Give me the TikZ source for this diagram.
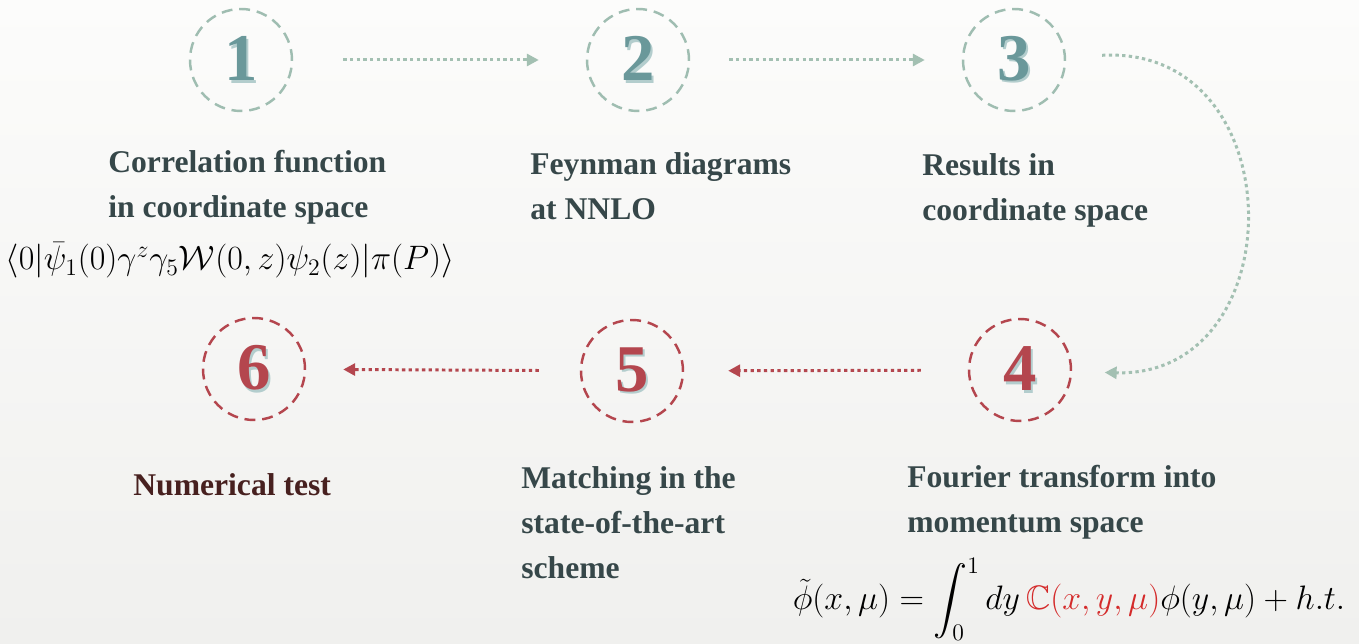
\documentclass[tikz,border=0pt]{standalone}
\usepackage{fix-cm}
\usepackage{amsmath,amssymb}
\usepackage{fontspec}
\setmainfont{Liberation Serif}
\usetikzlibrary{arrows.meta}

\definecolor{sage}{HTML}{9FBDB1}
\definecolor{sagearrow}{HTML}{A3C0B2}
\definecolor{brick}{HTML}{B4464E}
\definecolor{tealdigit}{HTML}{6A989A}
\definecolor{tealshade}{HTML}{B3CDCD}
\definecolor{inktext}{HTML}{364749}
\definecolor{inkred}{HTML}{47201F}
\definecolor{kernelred}{HTML}{D42A2A}
\definecolor{bgtop}{HTML}{FCFCFB}
\definecolor{bgbot}{HTML}{F0F0EE}

% digit with a small offset shadow
\newcommand{\stepdigit}[1]{\rlap{\hspace{1.4pt}\raisebox{-1.4pt}{\color{tealshade}#1}}#1}

\begin{document}
\begin{tikzpicture}[x=0.02cm, y=-0.02cm,
  stage/.style={circle, inner sep=0pt, minimum size=2.04cm, line width=1.4pt,
    dash pattern=on 6.2pt off 3.9pt, font=\fontsize{38}{38}\selectfont\bfseries},
  greenstage/.style={stage, draw=sage, text=tealdigit},
  redstage/.style={stage, draw=brick, text=brick},
  flow/.style={line width=1.7pt, dash pattern=on 1.9pt off 1.9pt,
    -{Triangle[length=6.8pt,width=6.8pt]}},
  stagetext/.style={anchor=north west, align=left, inner sep=0pt, text=inktext,
    font=\fontsize{18}{25.6}\selectfont\bfseries, execute at begin node={\rule{0pt}{18pt}}},
  formula/.style={anchor=base, inner sep=0pt, font=\fontsize{19.3}{22}\selectfont}]
  % background
  \fill[top color=bgtop, bottom color=bgbot] (0,0) rectangle (1359,644);
  \useasboundingbox (0,0) rectangle (1359,644);
  % stages, top row
  \node[greenstage] (c1) at (241,60) {\stepdigit{1}};
  \node[greenstage] (c2) at (638,60) {\stepdigit{2}};
  \node[greenstage] (c3) at (1014,60) {\stepdigit{3}};
  % stages, bottom row
  \node[redstage] (c4) at (1020,370) {\stepdigit{4}};
  \node[redstage] (c5) at (632,371) {\stepdigit{5}};
  \node[redstage] (c6) at (254,369) {\stepdigit{6}};
  % arrows
  \draw[flow, sagearrow, shorten <=1cm, shorten >=0.94cm] (c1) -- (c2);
  \draw[flow, sagearrow, shorten <=0.78cm, shorten >=0.74cm] (c2) -- (c3);
  \draw[flow, sagearrow, shorten <=0.72cm, shorten >=0.65cm]
    (c3) .. controls (1295,45) and (1295,378) .. (c4);
  \draw[flow, brick, shorten <=0.94cm, shorten >=0.88cm] (c4) -- (c5);
  \draw[flow, brick, shorten <=0.82cm, shorten >=0.74cm] (c5) -- (c6);
  % descriptions
  \node[stagetext] (t1) at (108,150) {Correlation function\\in coordinate space};
  \node[stagetext] (t2) at (530,152) {Feynman diagrams\\at NNLO};
  \node[stagetext] (t3) at (922,153) {Results in\\coordinate space};
  \node[stagetext] (t4) at (907,465) {Fourier transform into\\momentum space};
  \node[stagetext] (t5) at (521,466) {Matching in the\\state-of-the-art\\scheme};
  \node[stagetext, text=inkred] (t6) at (133,464) {Numerical test};
  % formulas
  \node[formula] (f1) at (230,270)
    {$\langle 0|\bar{\psi}_1(0)\gamma^z\gamma_5\mathcal{W}(0,z)\psi_2(z)|\pi(P)\rangle$};
  \node[formula] (f2) at (1069,610)
    {$\tilde{\phi}(x,\mu)=\displaystyle\int_0^1 dy\,\textcolor{kernelred}{\mathbb{C}(x,y,\mu)}\phi(y,\mu)+h.t.$};
\end{tikzpicture}
\end{document}
